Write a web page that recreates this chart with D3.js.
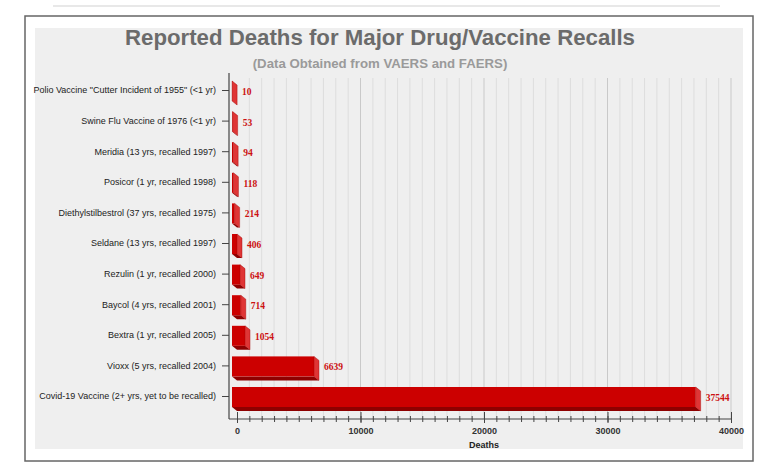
<!DOCTYPE html>
<html>
<head>
<meta charset="utf-8">
<script src="https://cdn.jsdelivr.net/npm/d3@7"></script>
<style>
  body { margin: 0; background: #fff; }
  svg { display: block; }
</style>
</head>
<body>
<div id="chart"></div>
<script>
var W = 771, H = 469

// data
var drugs = [
  'Polio Vaccine "Cutter Incident of 1955" (<1 yr)',
  'Swine Flu Vaccine of 1976 (<1 yr)',
  'Meridia (13 yrs, recalled 1997)',
  'Posicor (1 yr, recalled 1998)',
  'Diethylstilbestrol (37 yrs, recalled 1975)',
  'Seldane (13 yrs, recalled 1997)',
  'Rezulin (1 yr, recalled 2000)',
  'Baycol (4 yrs, recalled 2001)',
  'Bextra (1 yr, recalled 2005)',
  'Vioxx (5 yrs, recalled 2004)',
  'Covid-19 Vaccine (2+ yrs, yet to be recalled)'
]
var deaths = [10, 53, 94, 118, 214, 406, 649, 714, 1054, 6639, 37544]
var majorTicks = [0, 10000, 20000, 30000, 40000]
var minorTicks = d3.range(0, 40001, 1000)

var svg = d3.select("#chart").append("svg")
  .attr("width", W)
  .attr("height", H)

// page furniture
svg.append("line")
  .attr("x1", 53).attr("x2", 720).attr("y1", 6).attr("y2", 6)
  .style("stroke", "#e8e8e8").style("stroke-width", 2)
svg.append("rect")
  .attr("x", 25).attr("y", 16).attr("width", 728).attr("height", 445)
  .style("fill", "#fff").style("stroke", "#666").style("stroke-width", 1.5)
svg.append("rect")
  .attr("x", 35).attr("y", 28).attr("width", 708).attr("height", 421)
  .style("fill", "#efefef")

var x = d3.scaleLinear().domain([0, 40000]).range([237, 731])
var y = d3.scalePoint().domain(drugs).range([90, 396])

var barH = 20, dx = 5, dy = 4
var plotTop = 78, plotBottom = 419, axisX = 229

// gridlines
svg.append("g").selectAll("line")
  .data(minorTicks.filter(function(d){ return d > 0 }))
  .enter().append("line")
  .attr("x1", function(d){ return x(d) })
  .attr("x2", function(d){ return x(d) })
  .attr("y1", plotTop)
  .attr("y2", plotBottom)
  .style("stroke", function(d){ return d % 10000 == 0 ? "#c9c9c9" : "#dddddd" })
  .style("stroke-width", 1)

// bars, drawn as a front face + side + bottom
var bars = svg.append("g").selectAll("g")
  .data(drugs.map(function(d, i){ return {name: d, v: deaths[i]} }))
  .enter().append("g")

function barTop(d){ return y(d.name) - 9 }

bars.append("path")
  .attr("d", function(d){
    var t = barTop(d), x0 = x(0) - dx, x1 = x(d.v) - dx
    return "M" + x0 + "," + (t + barH) + "L" + x1 + "," + (t + barH) +
      "L" + (x1 + dx) + "," + (t + barH + dy) + "L" + (x0 + dx) + "," + (t + barH + dy) + "Z"
  })
  .style("fill", "#8e0000")
bars.append("rect")
  .attr("x", x(0) - dx)
  .attr("y", barTop)
  .attr("width", function(d){ return Math.max(0.5, x(d.v) - x(0)) })
  .attr("height", barH)
  .style("fill", "#cc0000")
bars.append("path")
  .attr("d", function(d){
    var t = barTop(d), x1 = x(d.v) - dx
    return "M" + x1 + "," + t + "L" + (x1 + dx) + "," + (t + dy) +
      "L" + (x1 + dx) + "," + (t + barH + dy) + "L" + x1 + "," + (t + barH) + "Z"
  })
  .style("fill", "#df3535")
  .style("stroke", "#a00000")
  .style("stroke-width", 0.4)

bars.append("text")
  .attr("x", function(d){ return x(d.v) + 5 })
  .attr("y", function(d){ return barTop(d) + barH / 2 + 4 })
  .text(function(d){ return d.v })
  .style("font-family", "'Liberation Serif', 'Times New Roman', serif")
  .style("font-weight", "bold")
  .style("font-size", "9.5px")
  .style("fill", "#cc1111")

// y axis
var yAxis = svg.append("g")
  .attr("transform", "translate(" + axisX + ",0)")
  .call(d3.axisLeft(y).tickSize(7).tickPadding(6))
yAxis.select(".domain").remove()
yAxis.selectAll("line").style("stroke", "#444")
yAxis.selectAll("text")
  .style("font-family", "'Liberation Sans', Arial, sans-serif")
  .style("font-size", "9px")
  .style("fill", "#222")
svg.append("line")
  .attr("x1", axisX).attr("x2", axisX).attr("y1", 73).attr("y2", plotBottom)
  .style("stroke", "#444").style("stroke-width", 1.2)

// x axis
var xMinor = svg.append("g")
  .attr("transform", "translate(0," + plotBottom + ")")
  .call(d3.axisBottom(x).tickValues(minorTicks).tickSize(3).tickFormat(""))
xMinor.select(".domain").remove()
xMinor.selectAll("line").attr("y1", -3).style("stroke", "#444")

var xAxis = svg.append("g")
  .attr("transform", "translate(0," + plotBottom + ")")
  .call(d3.axisBottom(x).tickValues(majorTicks).tickSize(4).tickPadding(5).tickFormat(d3.format("d")))
xAxis.select(".domain").remove()
xAxis.selectAll("line").attr("y1", -7).style("stroke", "#444")
xAxis.selectAll("text")
  .style("font-family", "'Liberation Sans', Arial, sans-serif")
  .style("font-size", "9px")
  .style("font-weight", "bold")
  .style("fill", "#333")
svg.append("line")
  .attr("x1", axisX).attr("x2", x(40000)).attr("y1", plotBottom).attr("y2", plotBottom)
  .style("stroke", "#444").style("stroke-width", 1.2)

svg.append("text")
  .attr("x", (x(0) + x(40000)) / 2)
  .attr("y", 448)
  .attr("text-anchor", "middle")
  .text("Deaths")
  .style("font-family", "'Liberation Sans', Arial, sans-serif")
  .style("font-size", "9px")
  .style("font-weight", "bold")
  .style("fill", "#222")

// titles, font size fitted to the widths in the picture
function fitText(sel, width){
  var fs = parseFloat(sel.style("font-size"))
  var len = sel.node().getComputedTextLength()
  sel.style("font-size", (fs * width / len) + "px")
}
var title = svg.append("text")
  .attr("x", 380).attr("y", 45)
  .attr("text-anchor", "middle")
  .text("Reported Deaths for Major Drug/Vaccine Recalls")
  .style("font-family", "'Liberation Sans', Arial, sans-serif")
  .style("font-weight", "bold")
  .style("font-size", "21px")
  .style("fill", "#6b6b6b")
fitText(title, 510)

var sub = svg.append("text")
  .attr("x", 380).attr("y", 68)
  .attr("text-anchor", "middle")
  .text("(Data Obtained from VAERS and FAERS)")
  .style("font-family", "'Liberation Sans', Arial, sans-serif")
  .style("font-weight", "bold")
  .style("font-size", "12px")
  .style("fill", "#9a9a9a")
fitText(sub, 255)
</script>
</body>
</html>
